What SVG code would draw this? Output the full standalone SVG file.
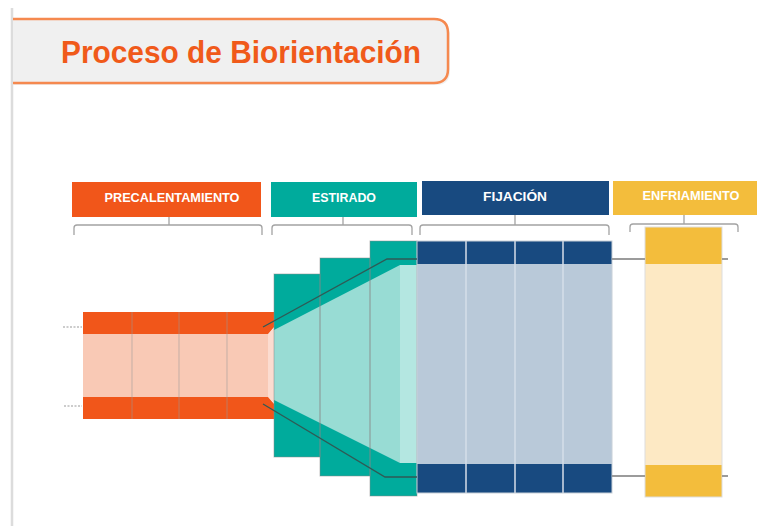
<svg xmlns="http://www.w3.org/2000/svg" width="762" height="526" viewBox="0 0 762 526">
<style>
.hdr-t{font-family:"Liberation Sans",Arial,sans-serif;font-weight:bold;font-size:12.5px;fill:#fff;text-anchor:middle}
.brace{fill:none;stroke:#a3a3a3;stroke-width:1.3;stroke-linejoin:round}
.div{stroke:#9a9a9a;stroke-opacity:.45;stroke-width:1.2}
.fdiv{stroke:#d6dee8;stroke-width:1.5}
.edge{fill:none;stroke:#8a8a8a;stroke-opacity:.5;stroke-width:1}
.guide{fill:none;stroke:#2f5a55;stroke-width:1.3}
.side{fill:none;stroke:#9b9b9b;stroke-width:2}
.lead{fill:none;stroke:#999;stroke-width:1.2;stroke-dasharray:2 1.5}
</style>
<rect width="762" height="526" fill="#fff"/>
<line x1="12" y1="8" x2="12" y2="526" stroke="#dcdcdc" stroke-width="2.5"/>

<g id="title">
<path d="M14 21 H436 Q450 21 450 35 V71 Q450 85 436 85 H14 Z" fill="#e6e6e6" opacity=".6"/>
<path d="M13 19 H434 Q448 19 448 33 V69 Q448 83 434 83 H13" fill="#f0f0f0" stroke="#f5894f" stroke-width="2.5"/>
<text x="61" y="63" font-family="'Liberation Sans',Arial,sans-serif" font-weight="bold" font-size="32" fill="#f05a1a" textLength="360" lengthAdjust="spacingAndGlyphs">Proceso de Biorientación</text>
</g>

<g id="hdr-precalentamiento">
<rect x="72" y="182" width="189" height="35" fill="#f1561a"/>
<text class="hdr-t" x="172" y="202" textLength="135" lengthAdjust="spacingAndGlyphs">PRECALENTAMIENTO</text>
</g>
<g id="hdr-estirado">
<rect x="271" y="182" width="146" height="35" fill="#00ab9c"/>
<text class="hdr-t" x="344" y="202" textLength="64" lengthAdjust="spacingAndGlyphs">ESTIRADO</text>
</g>
<g id="hdr-fijacion">
<rect x="422" y="181" width="187" height="34" fill="#184a80"/>
<text class="hdr-t" x="515" y="201" textLength="64" lengthAdjust="spacingAndGlyphs">FIJACIÓN</text>
</g>
<g id="hdr-enfriamiento">
<rect x="613" y="181" width="144" height="34" fill="#f3bd3c"/>
<text class="hdr-t" x="691" y="200" textLength="97" lengthAdjust="spacingAndGlyphs">ENFRIAMIENTO</text>
</g>

<g id="precalentamiento">
<rect x="83" y="334" width="192" height="63" fill="#f9c9b5"/>
<polygon points="268,334 275,327 275,404 268,397" fill="#fcdcd0"/>
<polygon points="83,312 275,312 275,326 268,334 83,334" fill="#f1561a"/>
<polygon points="83,397 268,397 275,405 275,419 83,419" fill="#f1561a"/>
<line class="div" x1="132" y1="312" x2="132" y2="419"/>
<line class="div" x1="179" y1="312" x2="179" y2="419"/>
<line class="div" x1="227" y1="312" x2="227" y2="419"/>
</g>

<g id="estirado">
<rect x="274" y="274" width="46" height="183" fill="#00ab9c"/>
<rect x="320" y="258" width="50" height="218" fill="#00ab9c"/>
<rect x="370" y="241" width="47" height="255" fill="#00ab9c"/>
<polygon points="274,330 400,265 417,265 417,463 400,463 274,400" fill="#98dcd4"/>
<rect x="400" y="265" width="17" height="198" fill="#b4e7e1"/>
<rect class="edge" x="274" y="274" width="46" height="183"/>
<rect class="edge" x="320" y="258" width="50" height="218"/>
<rect class="edge" x="370" y="241" width="47" height="255"/>
</g>

<g id="fijacion">
<rect x="417" y="264" width="195" height="200" fill="#b9c9d9"/>
<rect x="417" y="241" width="195" height="23" fill="#184a80"/>
<rect x="417" y="464" width="195" height="29" fill="#184a80"/>
<line class="fdiv" x1="466" y1="241" x2="466" y2="493"/>
<line class="fdiv" x1="515" y1="241" x2="515" y2="493"/>
<line class="fdiv" x1="563" y1="241" x2="563" y2="493"/>
<rect x="417" y="241" width="195" height="252" fill="none" stroke="#c8d0d8" stroke-width="1"/>
</g>

<g id="enfriamiento">
<rect x="645" y="264" width="77" height="201" fill="#fde9c4"/>
<rect x="645" y="227" width="77" height="37" fill="#f3bd3c"/>
<rect x="645" y="465" width="77" height="32" fill="#f3bd3c"/>
<rect x="645" y="227" width="77" height="270" fill="none" stroke="#ddd" stroke-width="1"/>
</g>

<g id="connectors">
<path class="brace" d="M74 235 V228 Q74 225 77 225 H259 Q262 225 262 228 V235 M169 217 V225"/>
<path class="brace" d="M272 235 V228 Q272 225 275 225 H409 Q412 225 412 228 V235 M343 217 V225"/>
<path class="brace" d="M420 235 V228 Q420 225 423 225 H606 Q609 225 609 228 V235 M515 215 V225"/>
<path class="brace" d="M630 232 V227 Q630 224 633 224 H735 Q738 224 738 227 V232 M684 215 V224"/>
<path class="guide" d="M263 327 L387 259 H417"/>
<path class="guide" d="M263 404 L385 477 H417"/>
<path class="side" d="M612 259 H645 M722 259 H728"/>
<path class="side" d="M612 476 H645 M722 476 H728"/>
<path class="lead" d="M63 327 H82"/>
<path class="lead" d="M64 406 H82"/>
</g>
</svg>
